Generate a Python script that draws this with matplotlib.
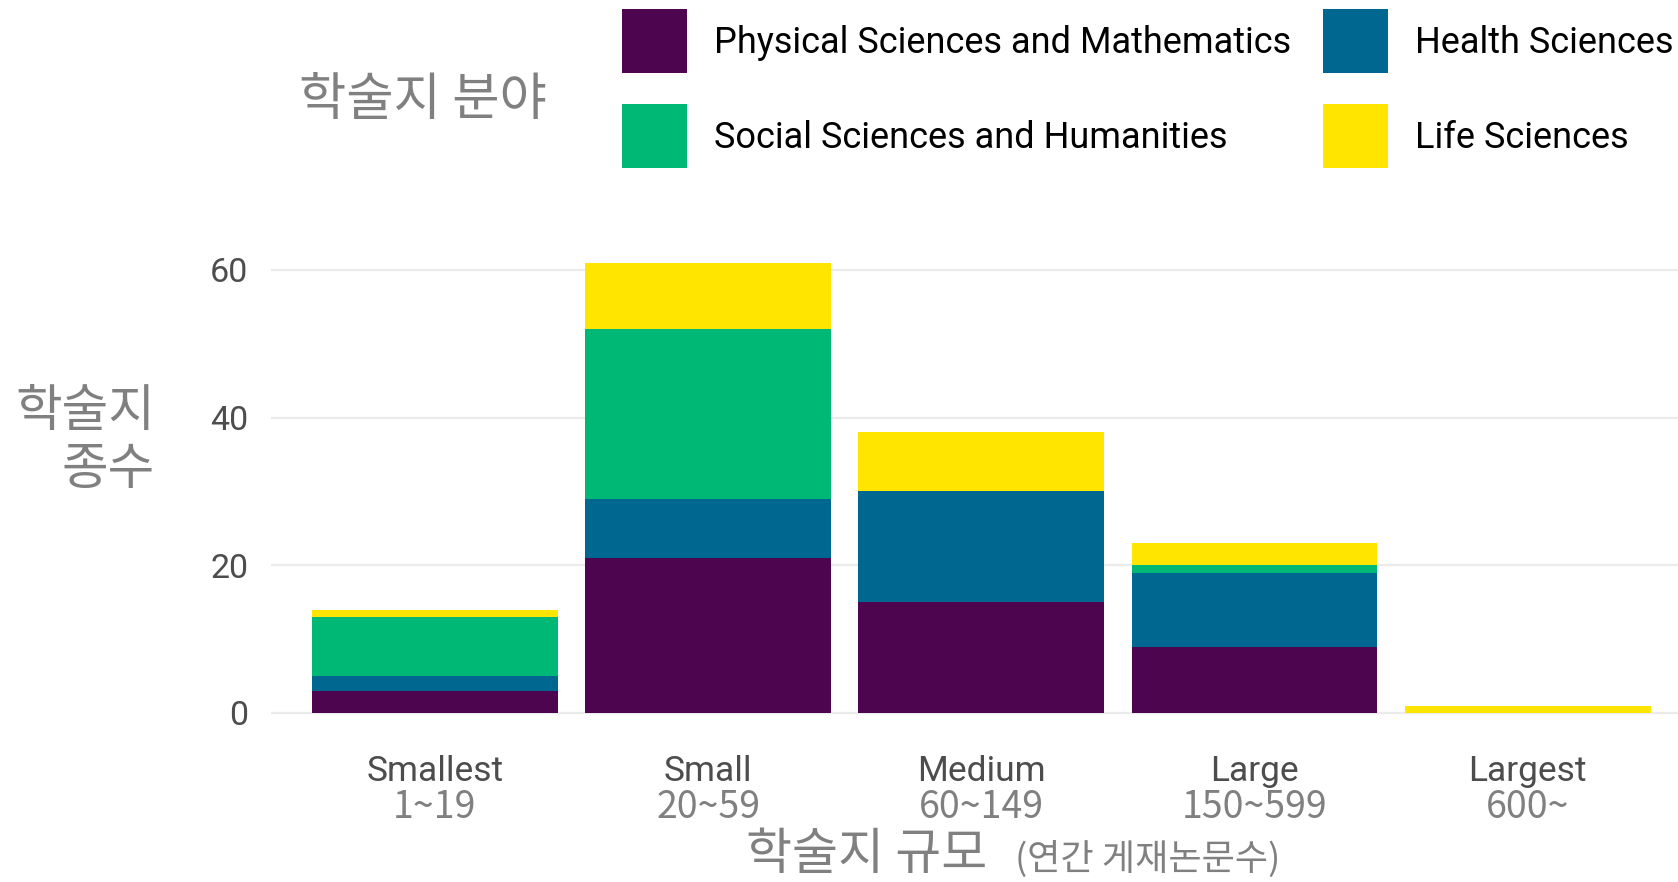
import matplotlib
matplotlib.use("Agg")
import matplotlib.pyplot as plt
import matplotlib.patches as mpatches
from matplotlib.transforms import blended_transform_factory

# ---------------- data ----------------
categories = ["Smallest", "Small", "Medium", "Large", "Largest"]
size_ranges = ["1~19", "20~59", "60~149", "150~599", "600~"]
physical = [3, 21, 15, 9, 0]
health = [2, 8, 15, 10, 0]
social = [8, 23, 0, 1, 0]
life = [1, 9, 8, 3, 1]
series_names = ["Physical Sciences and Mathematics", "Health Sciences",
                "Social Sciences and Humanities", "Life Sciences"]
y_ticks = [0, 20, 40, 60]

# ---------------- style ----------------
W, H = 1678, 882
colors = {"Physical Sciences and Mathematics": "#4D0550",
          "Health Sciences": "#006790",
          "Social Sciences and Humanities": "#00B875",
          "Life Sciences": "#FFE500"}
KR = ["Noto Sans CJK KR", "DejaVu Sans"]
LAT = ["Roboto", "DejaVu Sans"]
gray_kr = "#808080"
gray_tick = "#4D4D4D"


def fx(x):
    return x / W


def fy(y):
    return 1 - y / H


fig = plt.figure(figsize=(W / 100, H / 100), dpi=100)
fig.patch.set_facecolor("white")

# axes placement (pixels): left 271, right 1678, top 240, bottom 735.5
ax = fig.add_axes([fx(271), fy(735.5), fx(1678) - fx(271), fy(240) - fy(735.5)])
ax.set_facecolor("white")

x = list(range(len(categories)))
stack = [physical, health, social, life]
bottom = [0] * len(categories)
for name, vals in zip(series_names, stack):
    ax.bar(x, vals, width=0.9, bottom=bottom, color=colors[name],
           linewidth=0, zorder=3)
    bottom = [b + v for b, v in zip(bottom, vals)]

ax.set_xlim(-0.6, 4.55)
ax.set_ylim(-3.05, 64.05)
ax.set_yticks(y_ticks)
ax.set_yticklabels([str(t) for t in y_ticks], fontfamily=LAT)
ax.set_xticks(x)
ax.set_xticklabels(categories, fontfamily=LAT)
ax.tick_params(axis="y", length=0, pad=16.5, labelsize=24.5, labelcolor=gray_tick)
ax.tick_params(axis="x", length=0, pad=14, labelsize=25.5, labelcolor=gray_tick)
ax.grid(axis="y", color="#EBEBEB", linewidth=1.6, zorder=0)
ax.grid(axis="x", visible=False)
for s in ax.spines.values():
    s.set_visible(False)

# size range labels under category names
tr = blended_transform_factory(ax.transData, fig.transFigure)
for xi, r in zip(x, size_ranges):
    ax.text(xi, fy(808), r, transform=tr, ha="center", va="center",
            fontsize=27, color=gray_kr, fontfamily=KR)

# axis titles
fig.text(fx(746), fy(855), "학술지 규모", ha="left", va="center",
         fontsize=36, color=gray_kr, fontfamily=KR)
fig.text(fx(1015), fy(859), "(연간 게재논문수)", ha="left", va="center",
         fontsize=26, color=gray_kr, fontfamily=KR)
fig.text(fx(155), fy(441), "학술지\n종수", ha="right", va="center",
         multialignment="right", fontsize=36.5, color=gray_kr, fontfamily=KR,
         linespacing=1.15)

# legend (manual, ggplot-like)
fig.text(fx(299), fy(100), "학술지 분야", ha="left", va="center",
         fontsize=37, color=gray_kr, fontfamily=KR)
legend_layout = [("Physical Sciences and Mathematics", 622, 9),
                 ("Health Sciences", 1323, 9),
                 ("Social Sciences and Humanities", 622, 104),
                 ("Life Sciences", 1323, 104)]
for name, lx, ly in legend_layout:
    rect = mpatches.Rectangle((fx(lx), fy(ly + 64)), fx(65), 64 / H,
                              transform=fig.transFigure, facecolor=colors[name],
                              edgecolor="none")
    fig.patches.append(rect)
    fig.text(fx(lx + 92), fy(ly + 34), name, ha="left", va="center",
             fontsize=26, color="black", fontfamily=LAT)

fig.savefig("out.png", dpi=100, facecolor="white")
